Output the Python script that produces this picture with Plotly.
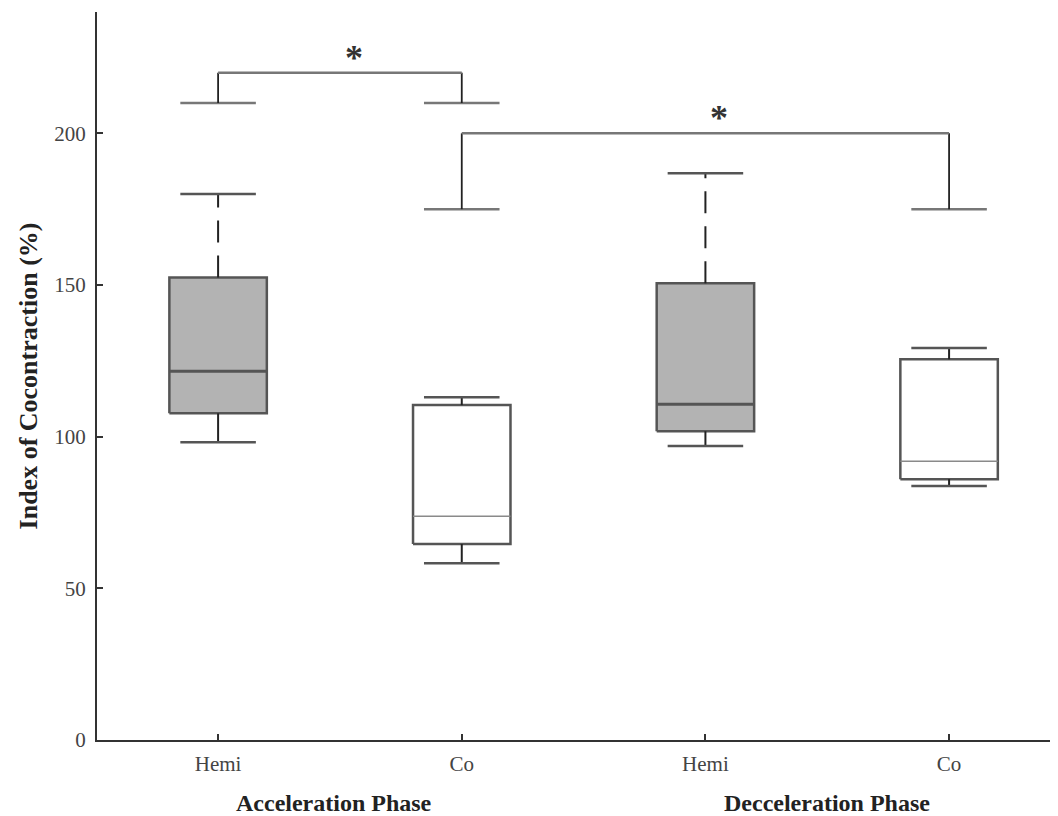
import plotly.graph_objects as go

# ---- data ----
tick_labels = ["Hemi", "Co", "Hemi", "Co"]
positions = [1, 2, 3, 4]
lower_whisker = [98.2, 58.3, 96.9, 83.7]
q1 = [107.7, 64.6, 101.8, 86.0]
median = [121.6, 73.8, 110.7, 91.9]
q3 = [152.5, 110.4, 150.6, 125.5]
upper_whisker = [180.0, 113.0, 186.8, 129.2]
is_hemi = [True, False, True, False]

# significance brackets
bracket_left = [1, 2]
bracket_right = [2, 4]
bracket_cap = [210, 175]
bracket_top = [220, 200]
star_level = [227, 207.5]

group_labels = ["Acceleration Phase", "Decceleration Phase"]
group_centers = [1.475, 3.5]

BOX_HALF = 0.2
CAP_HALF = 0.155
FONT = "Liberation Serif, Times New Roman, serif"

fig = go.Figure()

for i, p in enumerate(positions):
    fill = "#b3b3b3" if is_hemi[i] else "#ffffff"
    fig.add_trace(go.Scatter(
        x=[p - BOX_HALF, p + BOX_HALF, p + BOX_HALF, p - BOX_HALF, p - BOX_HALF],
        y=[q1[i], q1[i], q3[i], q3[i], q1[i]],
        mode="lines", fill="toself", fillcolor=fill,
        line=dict(color="#555555", width=2.5), hoverinfo="skip"))
    fig.add_trace(go.Scatter(
        x=[p - BOX_HALF, p + BOX_HALF], y=[median[i], median[i]], mode="lines",
        line=dict(color="#555555" if is_hemi[i] else "#8a8a8a", width=3 if is_hemi[i] else 1.5),
        hoverinfo="skip"))
    fig.add_trace(go.Scatter(
        x=[p, p], y=[q3[i], upper_whisker[i]], mode="lines",
        line=dict(color="#222222", width=2, dash="22px,13px" if is_hemi[i] else "solid"),
        hoverinfo="skip"))
    fig.add_trace(go.Scatter(
        x=[p, p], y=[q1[i], lower_whisker[i]], mode="lines",
        line=dict(color="#222222", width=2), hoverinfo="skip"))
    for v in (upper_whisker[i], lower_whisker[i]):
        fig.add_trace(go.Scatter(
            x=[p - CAP_HALF, p + CAP_HALF], y=[v, v], mode="lines",
            line=dict(color="#555555", width=2.5), hoverinfo="skip"))

for j in range(len(bracket_left)):
    a, b = bracket_left[j], bracket_right[j]
    c, t = bracket_cap[j], bracket_top[j]
    for p in (a, b):
        fig.add_trace(go.Scatter(
            x=[p - CAP_HALF, p + CAP_HALF], y=[c, c], mode="lines",
            line=dict(color="#777777", width=2.5), hoverinfo="skip"))
        fig.add_trace(go.Scatter(
            x=[p, p], y=[c, t], mode="lines",
            line=dict(color="#222222", width=1.8), hoverinfo="skip"))
    fig.add_trace(go.Scatter(
        x=[a, b], y=[t, t], mode="lines",
        line=dict(color="#777777", width=2.5), hoverinfo="skip"))
    fig.add_annotation(x=(a + b) / 2 + 0.057, y=star_level[j], text="<b>*</b>",
                       showarrow=False, font=dict(family=FONT, size=36, color="#333333"),
                       xanchor="center", yanchor="middle", yshift=-7)

for k, g in enumerate(group_labels):
    fig.add_annotation(x=group_centers[k], y=0, xref="x", yref="paper",
                       text=f"<b>{g}</b>", showarrow=False, yshift=-63,
                       font=dict(family=FONT, size=24, color="#222222"),
                       xanchor="center", yanchor="middle")

fig.update_layout(
    width=1050, height=808,
    margin=dict(l=89, r=0, t=4, b=76, autoexpand=False),
    plot_bgcolor="white", paper_bgcolor="white",
    showlegend=False,
    font=dict(family=FONT),
    xaxis=dict(range=[0.503, 4.447], tickvals=positions, ticktext=tick_labels,
               ticks="inside", ticklen=6, tickwidth=1.5, tickcolor="#333333",
               showline=True, linecolor="#333333", linewidth=2,
               showgrid=False, zeroline=False, automargin=False,
               ticklabelstandoff=4,
               tickfont=dict(family=FONT, size=21, color="#444444")),
    yaxis=dict(range=[0, 240], tickvals=[0, 50, 100, 150, 200],
               ticks="inside", ticklen=6, tickwidth=1.5, tickcolor="#333333",
               showline=True, linecolor="#333333", linewidth=2,
               showgrid=False, zeroline=False, automargin=False,
               ticklabelstandoff=5,
               tickfont=dict(family=FONT, size=21, color="#444444"),
               title=dict(text="<b>Index of Cocontraction (%)</b>", standoff=9,
                          font=dict(family=FONT, size=26, color="#222222"))),
)

fig.write_html("out.html")
